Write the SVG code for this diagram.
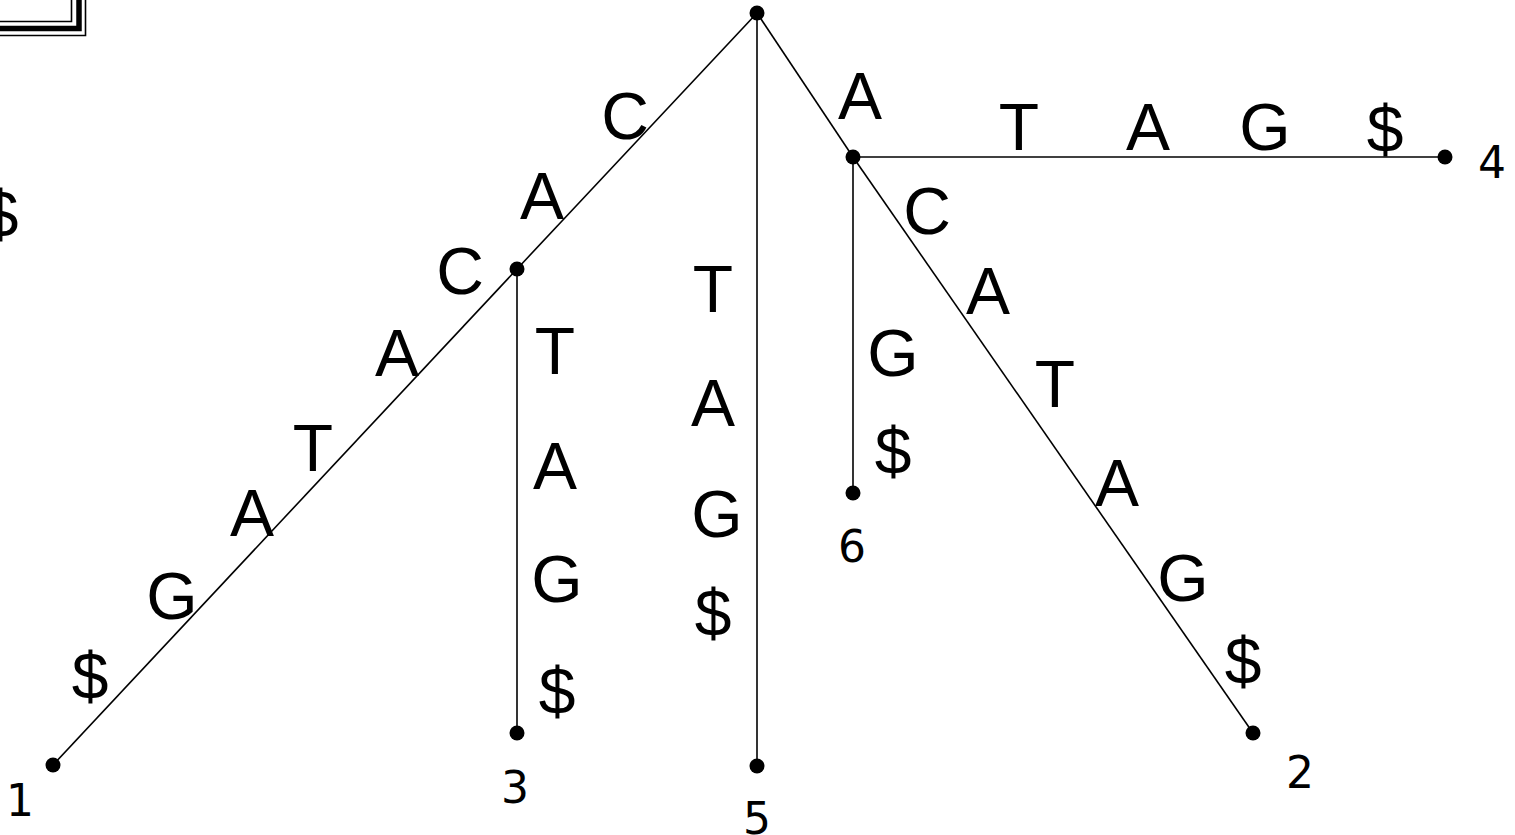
<svg xmlns="http://www.w3.org/2000/svg" width="1515" height="835" viewBox="0 0 1515 835">
<style>
.e{stroke:#000;stroke-width:1.6;fill:none}
.n{fill:#000}
.l{font-family:"Liberation Sans",Arial,sans-serif;font-size:66px;fill:#000;text-anchor:middle}
.d{font-family:"DejaVu Sans",Verdana,sans-serif;font-size:44px;fill:#000;text-anchor:middle}
</style>
<rect width="1515" height="835" fill="#fff"/>
<g id="frame">
<path d="M-5 21.5H71.5V-5" class="e" stroke-width="1.6"/>
<path d="M-5 28.5H79V-5" fill="none" stroke="#000" stroke-width="5.5"/>
<path d="M-5 35.5H85.5V-5" fill="none" stroke="#000" stroke-width="1.6"/>
</g>
<text class="l" x="0" y="237">$</text>
<g id="connectors">
<line class="e" x1="757" y1="13" x2="517" y2="269"/>
<line class="e" x1="517" y1="269" x2="53" y2="765"/>
<line class="e" x1="517" y1="269" x2="517" y2="733"/>
<line class="e" x1="757" y1="13" x2="757" y2="766"/>
<line class="e" x1="757" y1="13" x2="853" y2="157"/>
<line class="e" x1="853" y1="157" x2="1445" y2="157"/>
<line class="e" x1="853" y1="157" x2="853" y2="493"/>
<line class="e" x1="853" y1="157" x2="1253" y2="733"/>
</g>
<g id="edge-labels">
<text class="l" x="625" y="139">C</text>
<text class="l" x="542" y="219">A</text>
<text class="l" x="460" y="294">C</text>
<text class="l" x="397" y="376">A</text>
<text class="l" x="313" y="471">T</text>
<text class="l" x="252" y="536">A</text>
<text class="l" x="172" y="619">G</text>
<text class="l" x="90" y="699">$</text>
<text class="l" x="555" y="374">T</text>
<text class="l" x="555" y="489">A</text>
<text class="l" x="557" y="602">G</text>
<text class="l" x="557" y="714">$</text>
<text class="l" x="713" y="312">T</text>
<text class="l" x="713" y="426">A</text>
<text class="l" x="717" y="537">G</text>
<text class="l" x="713" y="636">$</text>
<text class="l" x="860" y="119">A</text>
<text class="l" x="1019" y="150">T</text>
<text class="l" x="1148" y="150">A</text>
<text class="l" x="1265" y="150">G</text>
<text class="l" x="1385" y="152">$</text>
<text class="l" x="893" y="376">G</text>
<text class="l" x="893" y="474">$</text>
<text class="l" x="927" y="234">C</text>
<text class="l" x="988" y="314">A</text>
<text class="l" x="1055" y="407">T</text>
<text class="l" x="1117" y="506">A</text>
<text class="l" x="1183" y="601">G</text>
<text class="l" x="1243" y="684">$</text>
</g>
<g id="root"><circle class="n" cx="757" cy="13" r="7.5"/></g>
<g id="node-A"><circle class="n" cx="853" cy="157" r="7.5"/></g>
<g id="node-CA"><circle class="n" cx="517" cy="269" r="7.5"/></g>
<g id="leaf-1"><circle class="n" cx="53" cy="765" r="7.5"/><text class="d" x="20" y="816">1</text></g>
<g id="leaf-3"><circle class="n" cx="517" cy="733" r="7.5"/><text class="d" x="515" y="803">3</text></g>
<g id="leaf-5"><circle class="n" cx="757" cy="766" r="7.5"/><text class="d" x="757" y="834">5</text></g>
<g id="leaf-6"><circle class="n" cx="853" cy="493" r="7.5"/><text class="d" x="852" y="562">6</text></g>
<g id="leaf-2"><circle class="n" cx="1253" cy="733" r="7.5"/><text class="d" x="1300" y="788">2</text></g>
<g id="leaf-4"><circle class="n" cx="1445" cy="157" r="7.5"/><text class="d" x="1492" y="178">4</text></g>
</svg>
